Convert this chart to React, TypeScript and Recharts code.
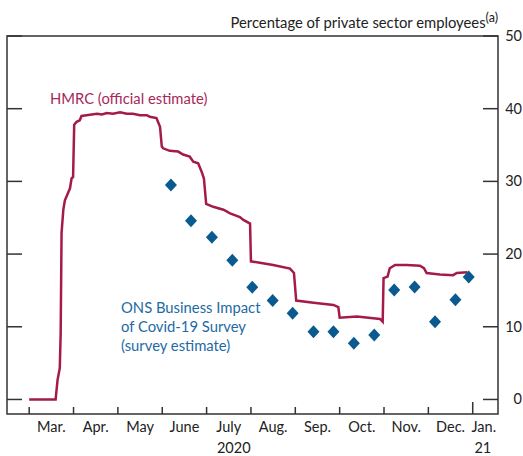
import React from "react";
import { ComposedChart, Line, Scatter, XAxis, YAxis, ReferenceArea } from "recharts";

// x is measured in months from 1 March 2020
const hmrcMonths = [
  0, 0.596, 0.64, 0.69, 0.71, 0.73, 0.77, 0.805, 0.84, 0.92, 0.956, 0.99, 1.015, 1.07, 1.14, 1.18,
  1.295, 1.41, 1.53, 1.64, 1.75, 1.89, 2.05, 2.2, 2.34, 2.5, 2.65, 2.72, 2.87, 2.95, 2.99, 3.02,
  3.17, 3.36, 3.47, 3.62, 3.7, 3.81, 3.89, 3.94, 3.99, 4.15, 4.38, 4.53, 4.75, 4.83, 4.98, 5.0,
  5.2, 5.5, 5.88, 5.97, 6.02, 6.41, 6.86, 6.97, 7.0, 7.39, 7.91, 7.97, 7.99, 8.08, 8.13, 8.25,
  8.51, 8.81, 8.9, 8.96, 9.26, 9.56, 9.64, 9.88,
];
const hmrcValues = [
  0, 0, 2.7, 4.3, 9.1, 22.9, 26.1, 27.4, 27.9, 29.05, 30.4, 30.6, 37.8, 38.2, 38.4, 39.0,
  39.1, 39.2, 39.3, 39.2, 39.4, 39.3, 39.5, 39.3, 39.3, 39.1, 39.1, 38.9, 38.7, 37.5, 34.8, 34.55,
  34.2, 34.1, 33.7, 33.4, 32.7, 32.5, 31.3, 30.4, 26.9, 26.5, 26.1, 25.6, 25.1, 24.7, 24.2, 19.0,
  18.8, 18.5, 18.0, 17.4, 13.6, 13.3, 13.0, 12.7, 11.25, 11.4, 11.07, 10.7, 16.7, 16.9, 18.05, 18.5,
  18.5, 18.4, 18.05, 17.4, 17.2, 17.1, 17.4, 17.5,
];

const onsMonths = [
  3.196, 3.648, 4.12, 4.58, 5.03, 5.49, 5.94, 6.41, 6.86, 7.32, 7.78, 8.23, 8.69, 9.15, 9.61, 9.91,
];
const onsValues = [
  29.5, 24.6, 22.3, 19.15, 15.45, 13.6, 11.86, 9.33, 9.33, 7.73, 8.87, 15.06, 15.47, 10.7, 13.7, 16.85,
];

const monthLabels = ["Mar.", "Apr.", "May", "June", "July", "Aug.", "Sep.", "Oct.", "Nov.", "Dec.", "Jan."];
const monthBoundaries = [0, 1, 2, 3, 4, 5, 6, 7, 8, 9, 10];
const labelPositions = [0.5, 1.5, 2.5, 3.5, 4.5, 5.5, 6.5, 7.5, 8.5, 9.5, 10.25];
const yTicks = [0, 10, 20, 30, 40, 50];

const hmrcData = hmrcMonths.map((m, i) => ({ m, v: hmrcValues[i] }));
const onsData = onsMonths.map((m, i) => ({ m, v: onsValues[i] }));

const RED = "#a41a4b";
const BLUE = "#0a5a8f";
const AXIS = "#333";
const FONT = "Lato, 'Open Sans', sans-serif";
const PLOT_W = 491;

const Diamond = (props: any) => {
  const { cx, cy } = props;
  if (cx == null || cy == null) return null;
  return (
    <polygon
      points={`${cx},${cy - 6.5} ${cx + 6},${cy} ${cx},${cy + 6.5} ${cx - 6},${cy}`}
      fill={BLUE}
    />
  );
};

const XTick = (props: any) => {
  const { x, y, payload } = props;
  const val = payload.value;
  const bIdx = monthBoundaries.indexOf(val);
  if (bIdx >= 0) {
    const len = val === 10 ? 12 : 7;
    return <line x1={x} x2={x} y1={y} y2={y - len} stroke={AXIS} strokeWidth={1.5} />;
  }
  const lIdx = labelPositions.indexOf(val);
  if (lIdx < 0) return null;
  return (
    <g>
      <text x={x} y={y + 18} textAnchor="middle" fontFamily={FONT} fontSize={14.5} fill="#222">
        {monthLabels[lIdx]}
      </text>
      {lIdx === 4 && (
        <text x={x + 5} y={y + 39} textAnchor="middle" fontFamily={FONT} fontSize={14.5} fill="#222">
          2020
        </text>
      )}
      {lIdx === 10 && (
        <text x={x - 1} y={y + 39} textAnchor="middle" fontFamily={FONT} fontSize={14.5} fill="#222">
          21
        </text>
      )}
    </g>
  );
};

const YTick = (props: any) => {
  const { x, y, payload } = props;
  return (
    <g>
      <line x1={x} x2={x - 15} y1={y} y2={y} stroke={AXIS} strokeWidth={1.5} />
      <line x1={x - PLOT_W} x2={x - PLOT_W + 15} y1={y} y2={y} stroke={AXIS} strokeWidth={1.5} />
      <text x={522} y={y + 5} textAnchor="end" fontFamily={FONT} fontSize={14.5} fill="#222">
        {payload.value}
      </text>
    </g>
  );
};

export default function App() {
  return (
    <div style={{ position: "absolute", left: 0, top: 0, width: 523, height: 456, background: "#fff" }}>
      <ComposedChart width={523} height={456} margin={{ top: 36, right: 0, left: 7, bottom: 0 }}>
        <XAxis
          dataKey="m"
          type="number"
          domain={[-0.5, 10.57]}
          ticks={[...monthBoundaries, ...labelPositions]}
          tick={<XTick />}
          tickSize={0}
          tickMargin={0}
          axisLine={false}
          tickLine={false}
          interval={0}
          height={42}
          allowDataOverflow
        />
        <YAxis
          orientation="right"
          type="number"
          domain={[-2, 50]}
          ticks={yTicks}
          tick={<YTick />}
          tickSize={0}
          tickMargin={0}
          axisLine={false}
          tickLine={false}
          interval={0}
          width={25}
          allowDataOverflow
        />
        <ReferenceArea
          x1={-0.5}
          x2={10.57}
          y1={-2}
          y2={50}
          fill="none"
          stroke={AXIS}
          strokeWidth={1.5}
          ifOverflow="visible"
        />
        <Line
          data={hmrcData}
          dataKey="v"
          type="linear"
          stroke={RED}
          strokeWidth={2.5}
          dot={false}
          isAnimationActive={false}
        />
        <Scatter data={onsData} dataKey="v" fill={BLUE} shape={<Diamond />} isAnimationActive={false} />
      </ComposedChart>
      <div
        style={{
          position: "absolute",
          right: 25,
          top: 10,
          fontFamily: FONT,
          fontSize: 14.8,
          color: "#222",
          whiteSpace: "nowrap",
        }}
      >
        Percentage of private sector employees
        <sup style={{ fontSize: 12.5 }}>(a)</sup>
      </div>
      <div
        style={{
          position: "absolute",
          left: 50,
          top: 89,
          fontFamily: FONT,
          fontSize: 14.8,
          color: "#a8285a",
          whiteSpace: "nowrap",
        }}
      >
        HMRC (official estimate)
      </div>
      <div
        style={{
          position: "absolute",
          left: 121,
          top: 298,
          fontFamily: FONT,
          fontSize: 14.8,
          lineHeight: "19px",
          color: "#1e6aa3",
          whiteSpace: "nowrap",
        }}
      >
        ONS Business Impact
        <br />
        of Covid-19 Survey
        <br />
        (survey estimate)
      </div>
    </div>
  );
}
